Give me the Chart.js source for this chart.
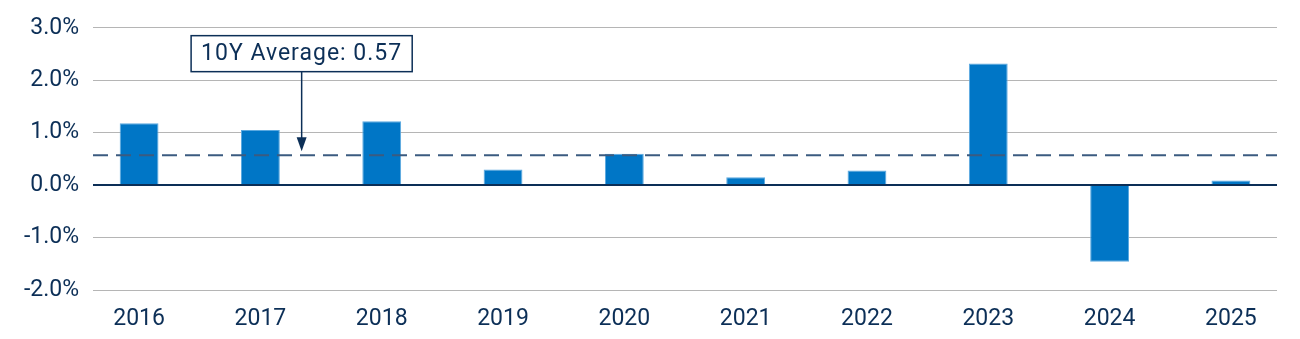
<!DOCTYPE html>
<html>
<head>
<meta charset="utf-8">
<script src="https://cdn.jsdelivr.net/npm/chart.js@4/dist/chart.umd.min.js"></script>
<style>
  html, body { margin: 0; padding: 0; background: #ffffff; }
  #wrap { width: 1300px; height: 339px; position: relative; }
</style>
</head>
<body>
<div id="wrap"><canvas id="returnsChart"></canvas></div>
<script>
// Yearly values (%) and the 10-year average
const years = ['2016', '2017', '2018', '2019', '2020', '2021', '2022', '2023', '2024', '2025'];
const yearlyReturns = [1.18, 1.05, 1.22, 0.30, 0.60, 0.15, 0.28, 2.32, -1.46, 0.09];
const tenYearAverage = 0.57;
const averageLabel = '10Y Average: 0.57';
const yTicks = [-2, -1, 0, 1, 2, 3];

const NAVY = '#0c2f57';
const FONT = 'Roboto, "DejaVu Sans", sans-serif';

// Zero line, dashed average line and the callout box with its arrow
const overlayPlugin = {
    id: 'averageOverlay',
    afterDatasetsDraw(chart) {
        const { ctx, chartArea, scales } = chart;
        const y = scales.y;
        const x = scales.x;

        // zero baseline
        const y0 = y.getPixelForValue(0);
        ctx.save();
        ctx.strokeStyle = NAVY;
        ctx.lineWidth = 2;
        ctx.beginPath();
        ctx.moveTo(chartArea.left, y0);
        ctx.lineTo(chartArea.right, y0);
        ctx.stroke();

        // dashed average
        const yAvg = y.getPixelForValue(tenYearAverage);
        ctx.strokeStyle = '#3b5b80';
        ctx.lineWidth = 2;
        ctx.setLineDash([15, 8]);
        ctx.beginPath();
        ctx.moveTo(chartArea.left, yAvg);
        ctx.lineTo(chartArea.right, yAvg);
        ctx.stroke();
        ctx.setLineDash([]);

        // callout box, sitting between 2017 and 2018
        const cx = x.getPixelForValue(1.34);
        ctx.font = '23px ' + FONT;
        ctx.letterSpacing = '1px';
        const textW = ctx.measureText(averageLabel).width;
        const boxW = textW + 20;
        const boxH = 36;
        const boxTop = y.getPixelForValue(2.85);
        ctx.fillStyle = '#ffffff';
        ctx.fillRect(cx - boxW / 2, boxTop, boxW, boxH);
        ctx.strokeStyle = NAVY;
        ctx.lineWidth = 1.5;
        ctx.strokeRect(cx - boxW / 2, boxTop, boxW, boxH);
        ctx.fillStyle = NAVY;
        ctx.textAlign = 'center';
        ctx.textBaseline = 'middle';
        ctx.fillText(averageLabel, cx, boxTop + boxH / 2 + 1);
        ctx.letterSpacing = '0px';

        // arrow down to the average line
        const tipY = yAvg - 4;
        ctx.strokeStyle = NAVY;
        ctx.lineWidth = 1.5;
        ctx.beginPath();
        ctx.moveTo(cx, boxTop + boxH);
        ctx.lineTo(cx, tipY - 12);
        ctx.stroke();
        ctx.beginPath();
        ctx.moveTo(cx - 5, tipY - 14);
        ctx.lineTo(cx + 5, tipY - 14);
        ctx.lineTo(cx, tipY);
        ctx.closePath();
        ctx.fill();
        ctx.restore();
    }
};

const ctx = document.getElementById('returnsChart');

new Chart(ctx, {
    type: 'bar',
    data: {
        datasets: [{
            data: yearlyReturns.map((v, i) => ({ x: i, y: v })),
            backgroundColor: '#0076c6',
            borderColor: '#5ba9e0',
            borderWidth: 1,
            barPercentage: 0.32,
            categoryPercentage: 1
        }]
    },
    options: {
        responsive: true,
        maintainAspectRatio: false,
        animation: false,
        layout: {
            padding: { top: 14, right: 23, bottom: 0, left: 0 }
        },
        plugins: {
            legend: { display: false },
            tooltip: { enabled: false }
        },
        scales: {
            x: {
                type: 'linear',
                offset: false,
                min: -0.38,
                max: years.length - 1 + 0.38,
                afterBuildTicks: scale => {
                    scale.ticks = years.map((_, i) => ({ value: i }));
                },
                grid: { display: false },
                border: { display: false },
                ticks: {
                    color: NAVY,
                    font: { family: FONT, size: 23 },
                    padding: 7,
                    autoSkip: false,
                    maxRotation: 0,
                    callback: value => years[value] ?? ''
                },
                afterFit: scale => { scale.height = 49; }
            },
            y: {
                min: -2,
                max: 3,
                afterBuildTicks: scale => {
                    scale.ticks = yTicks.map(v => ({ value: v }));
                },
                grid: {
                    color: c => c.tick && c.tick.value === 0 ? 'rgba(0,0,0,0)' : '#b5b5b5',
                    lineWidth: 1,
                    drawTicks: false
                },
                border: { display: false },
                ticks: {
                    color: NAVY,
                    font: { family: FONT, size: 23 },
                    padding: 14,
                    callback: value => `${value.toFixed(1)}%`
                },
                afterFit: scale => { scale.width = 93; }
            }
        }
    },
    plugins: [overlayPlugin]
});
</script>
</body>
</html>
